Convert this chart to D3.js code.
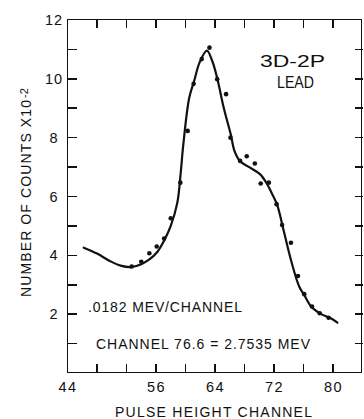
<!DOCTYPE html>
<html>
<head>
<meta charset="utf-8">
<script src="https://cdn.jsdelivr.net/npm/d3@7"></script>
</head>
<body style="margin:0">
<div id="wrap" style="position:relative;width:364px;height:419px;">
<svg id="chart" width="364" height="419" style="position:absolute;left:0;top:0;"></svg>
</div>
<script>
// ---- Data ----
const xTickMarks = [48, 52, 56, 60, 64, 68, 72, 76, 80];
const xTickLabels = [44, 56, 64, 72, 80];
const yTickMarks = [1, 2, 3, 4, 5, 6, 7, 8, 9, 10, 11];
const yTickLabels = [2, 4, 6, 8, 10, 12];

// measured points (pulse height channel, counts x10^-2)
const pointChannels = [52.7, 54.0, 55.1, 56.1, 57.1, 58.0, 59.3, 60.3, 61.1, 62.2, 63.25, 64.3, 65.5, 66.1,
                       67.4, 68.3, 69.4, 70.2, 71.3, 72.35, 73.1, 74.3, 75.25, 76.1, 77.15, 78.2, 79.4];
const pointCounts   = [3.62, 3.78, 4.07, 4.30, 4.57, 5.26, 6.47, 8.23, 9.83, 10.67, 11.06, 9.99, 9.48, 8.0,
                       7.21, 7.37, 7.12, 6.44, 6.47, 5.74, 5.03, 4.43, 3.30, 2.68, 2.26, 2.03, 1.88];

// fitted curve
const curveChannels = [46.2, 48.0, 49.8, 51.2, 52.6, 54.0, 55.1, 56.2, 57.1, 58.0, 58.9, 59.35, 59.7, 60.5,
                       61.2, 61.9, 62.9, 63.65, 64.3, 65.2, 66.15, 66.6, 67.4, 68.7, 70.1, 71.0, 71.7,
                       72.45, 73.3, 74.3, 75.4, 76.1, 77.1, 78.4, 79.7, 80.6];
const curveCounts   = [4.26, 4.06, 3.80, 3.65, 3.60, 3.70, 3.86, 4.12, 4.50, 5.00, 5.80, 6.80, 7.76, 9.35,
                       9.95, 10.55, 10.96, 10.59, 10.02, 9.00, 8.10, 7.58, 7.20, 6.99, 6.76, 6.45, 6.11,
                       5.70, 4.85, 3.84, 2.95, 2.65, 2.24, 2.00, 1.86, 1.71];

const titleLines = ["3D-2P", "LEAD"];
const noteLines = [".0182 MEV/CHANNEL", "CHANNEL 76.6 = 2.7535 MEV"];
const xTitle = "PULSE HEIGHT CHANNEL";
const yTitle = "NUMBER OF COUNTS X10";
const yTitleSup = "-2";

// ---- Layout ----
const svg = d3.select("#chart");
const wrap = d3.select("#wrap");
const plotLeft = 67.5, plotRight = 362.5, plotTop = 20, plotBottom = 373;
const x = d3.scaleLinear().domain([44, 84]).range([plotLeft, plotRight]);
const y = d3.scaleLinear().domain([0, 12]).range([plotBottom, plotTop]);
const ink = "#111";
const FONT = "Liberation Sans, DejaVu Sans, sans-serif";
const lw = 1.6;
const x0 = x(44), x1 = x(84), y0 = y(0), y1 = y(12), h = lw / 2;

// frame + inward tick marks as HTML boxes placed with the scales
wrap.insert("div", "svg")
  .style("position", "absolute")
  .style("left", (x0 - h) + "px").style("top", (y1 - h) + "px")
  .style("width", (x1 - x0 - lw) + "px").style("height", (y0 - y1 - lw) + "px")
  .style("border", lw + "px solid " + ink);

function tickBoxes(cls, data, fx, fy, w, hh) {
  wrap.selectAll("div." + cls).data(data).join("div").attr("class", cls)
    .style("position", "absolute").style("background", ink)
    .style("left", d => fx(d) + "px").style("top", d => fy(d) + "px")
    .style("width", w + "px").style("height", hh + "px");
}
tickBoxes("xb", xTickMarks, d => x(d) - h, () => y0 - 9, lw, 9);
tickBoxes("xt", xTickMarks, d => x(d) - h, () => y1, lw, 8);
tickBoxes("yl", yTickMarks, () => x0, d => y(d) - h, 9, lw);
tickBoxes("yr", yTickMarks, () => x1 - 8, d => y(d) - h, 8, lw);

// tick labels through d3 axes
svg.append("g").attr("transform", `translate(0,${plotBottom})`)
  .call(d3.axisBottom(x).tickValues(xTickLabels).tickSize(0).tickPadding(9).tickFormat(d3.format("d")))
  .call(g => {
    g.select(".domain").remove();
    g.selectAll(".tick line").remove();
    g.selectAll("text").style("font-size", "14.5px").style("font-family", FONT)
      .style("fill", ink).attr("letter-spacing", "1.5");
  });
svg.append("g").attr("transform", `translate(${plotLeft},0)`)
  .call(d3.axisLeft(y).tickValues(yTickLabels).tickSize(0).tickPadding(6).tickFormat(d3.format("d")))
  .call(g => {
    g.select(".domain").remove();
    g.selectAll(".tick line").remove();
    g.selectAll("text").style("font-size", "14.5px").style("font-family", FONT)
      .style("fill", ink).attr("text-anchor", "middle").attr("x", 54 - plotLeft).attr("letter-spacing", "1");
  });

// fitted curve
const curveData = curveChannels.map((c, i) => [c, curveCounts[i]]);
svg.append("path")
  .datum(curveData)
  .style("fill", "none").style("stroke", ink).style("stroke-width", "2.2px")
  .attr("stroke-linejoin", "round").attr("stroke-linecap", "round")
  .attr("d", d3.line().x(d => x(d[0])).y(d => y(d[1])).curve(d3.curveCatmullRom.alpha(0.5)));

// data points
svg.append("g").selectAll("circle")
  .data(pointChannels.map((c, i) => [c, pointCounts[i]]))
  .join("circle")
  .attr("cx", d => x(d[0])).attr("cy", d => y(d[1]))
  .attr("r", 2.3).style("fill", ink);

function label(xp, yp, str, size, len, adjust) {
  return svg.append("text").attr("x", xp).attr("y", yp)
    .style("font-size", size + "px").style("font-family", FONT).style("fill", ink)
    .attr("textLength", len).attr("lengthAdjust", adjust || "spacing")
    .text(str);
}

// in-plot labels
label(260, 67, titleLines[0], 16, 65, "spacingAndGlyphs");
label(277, 88, titleLines[1], 16, 37, "spacingAndGlyphs");
label(88, 312, noteLines[0], 14, 154);
label(96, 349, noteLines[1], 14, 214);

// axis titles
label(115, 417, xTitle, 14, 197);

const yt = svg.append("text").attr("transform", "translate(31,297) rotate(-90)")
  .style("font-size", "14px").style("font-family", FONT).style("fill", ink);
yt.append("tspan").attr("textLength", 197).attr("lengthAdjust", "spacing").text(yTitle);
yt.append("tspan").attr("dx", 1).attr("dy", -3).style("font-size", "11px").text(yTitleSup);
</script>
</body>
</html>
